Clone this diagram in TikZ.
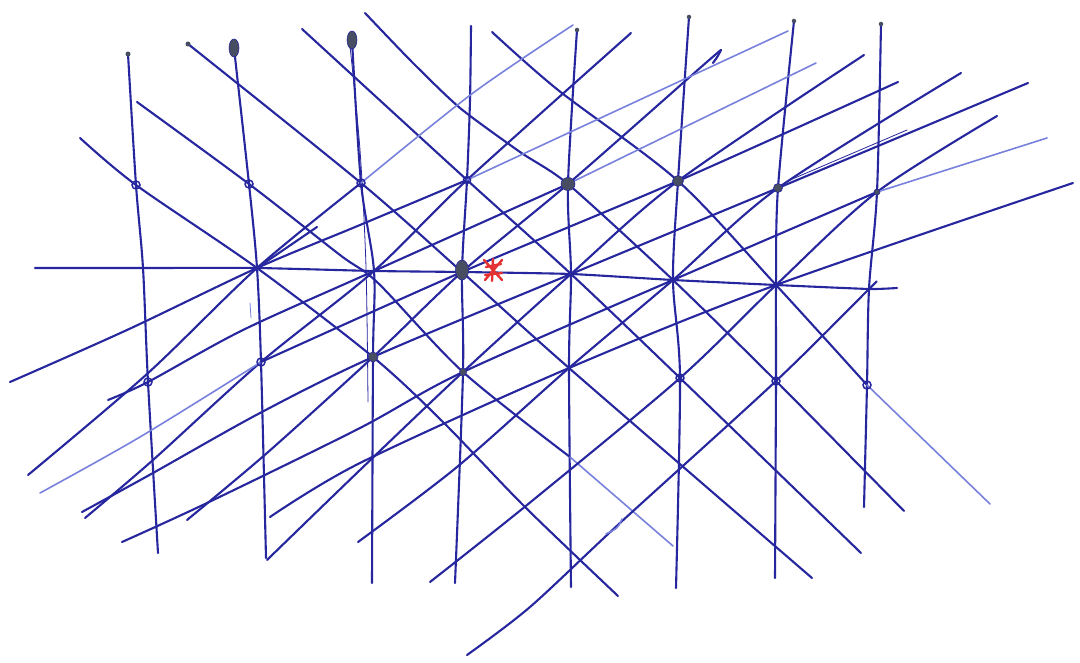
\documentclass[tikz,border=0pt]{standalone}
\usepackage{tikz}
\usetikzlibrary{shapes.geometric}
\definecolor{ink}{RGB}{38,38,158}
\definecolor{inkfaint}{RGB}{120,130,220}
\definecolor{blobc}{RGB}{72,78,98}
\definecolor{redink}{RGB}{228,50,50}
\tikzset{
  pen/.style={draw=ink,line width=2.1pt,line cap=round,line join=round},
  fpen/.style={draw=inkfaint,line width=1.6pt,line cap=round,line join=round},
  hair/.style={draw=ink,line width=0.8pt,line cap=round},
  ring/.style={circle,draw=ink,line width=1.5pt,inner sep=0pt,minimum size=8pt},
  inkblob/.style={ellipse,fill=blobc,draw=ink,line width=0.6pt,inner sep=0pt},
  tipdot/.style={circle,fill=blobc,inner sep=0pt,minimum size=5pt},
}
\begin{document}
\begin{tikzpicture}[x=1pt,y=-1pt]
\useasboundingbox (0,0) rectangle (1080,663);
\fill[white] (0,0) rectangle (1080,663);
% lattice points
\coordinate (A1) at (136,185); \coordinate (A2) at (249,184); \coordinate (A3) at (361,183);
\coordinate (A4) at (467,180); \coordinate (A5) at (568,184); \coordinate (A6) at (678,181);
\coordinate (A7) at (778,188); \coordinate (A8) at (877,192);
\coordinate (B1) at (143,268); \coordinate (B2) at (257,268); \coordinate (B3) at (374,271);
\coordinate (B4) at (462,272); \coordinate (B5) at (571,274); \coordinate (B6) at (673,280);
\coordinate (B7) at (776,285); \coordinate (B8) at (869,289);
\coordinate (C1) at (148,382); \coordinate (C2) at (261,362); \coordinate (C3) at (373,357);
\coordinate (C4) at (463,372); \coordinate (C5) at (569,368); \coordinate (C6) at (680,378);
\coordinate (C7) at (776,381); \coordinate (C8) at (867,385);
% vertical line ends
\coordinate (v1t) at (128,54);  \coordinate (v1b) at (158,553);
\coordinate (v2t) at (234,48);  \coordinate (v2b) at (266,558);
\coordinate (v3t) at (352,40);  \coordinate (v3b) at (372,583);
\coordinate (v4t) at (471,26);  \coordinate (v4m) at (470,100); \coordinate (v4b) at (455,583);
\coordinate (v5t) at (577,30);  \coordinate (v5b) at (571,587);
\coordinate (v6t) at (689,17);  \coordinate (v6b) at (676,588);
\coordinate (v7t) at (794,21);  \coordinate (v7b) at (775,578);
\coordinate (v8t) at (881,24);  \coordinate (v8b) at (864,507);
\coordinate (t3a) at (350,46); \coordinate (t3b) at (360,150); \coordinate (t3c) at (366,267); \coordinate (t3d) at (368,402);
% horizontal
\coordinate (hl) at (35,268); \coordinate (hr) at (897,288);
% verticals
\draw[pen] plot[smooth,tension=0.5] coordinates {(v1t) (A1) (B1) (C1) (v1b)};
\draw[pen] plot[smooth,tension=0.5] coordinates {(v2t) (A2) (B2) (C2) (v2b)};
\draw[pen] plot[smooth,tension=0.5] coordinates {(v3t) (A3) (B3) (C3) (v3b)};
\draw[hair] plot[smooth,tension=0.5] coordinates {(t3a) (t3b) (t3c) (t3d)};
\draw[pen] plot[smooth,tension=0.5] coordinates {(v4t) (v4m) (A4) (B4) (C4) (v4b)};
\draw[pen] plot[smooth,tension=0.5] coordinates {(v5t) (A5) (B5) (C5) (v5b)};
\draw[pen] plot[smooth,tension=0.5] coordinates {(v6t) (A6) (B6) (C6) (v6b)};
\draw[pen] plot[smooth,tension=0.5] coordinates {(v7t) (A7) (B7) (C7) (v7b)};
\draw[pen] plot[smooth,tension=0.5] coordinates {(v8t) (A8) (B8) (C8) (v8b)};
% horizontal
\draw[pen] plot[smooth,tension=0.3] coordinates {(hl) (B1) (B2) (B3) (B4) (B5) (B6) (B7) (B8) (hr)};
% descending lines
\coordinate (da0) at (80,138); \coordinate (da1) at (443,422); \coordinate (da2) at (525,507); \coordinate (da3) at (618,596);
\draw[pen] plot[smooth,tension=0.5] coordinates {(da0) (A1) (B2) (C3) (da1) (da2) (da3)};
\coordinate (db0) at (137,102); \coordinate (db1) at (340,255); \coordinate (db2) at (378,283);
\coordinate (db3) at (570,457); \coordinate (db4) at (673,546);
\draw[pen] plot[smooth,tension=0.5] coordinates {(db0) (A2) (db1) (db2) (C4) (db3)};
\draw[fpen] plot[smooth,tension=0.5] coordinates {(db3) (db4)};
\coordinate (dc0) at (188,44); \coordinate (dc1) at (812,578);
\draw[pen] plot[smooth,tension=0.5] coordinates {(dc0) (A3) (B4) (C5) (dc1)};
\coordinate (dd0) at (302,29); \coordinate (dd1) at (861,553);
\draw[pen] plot[smooth,tension=0.5] coordinates {(dd0) (A4) (B5) (C6) (dd1)};
\coordinate (de0) at (365,13); \coordinate (de1) at (412,62); \coordinate (de2) at (460,108);
\coordinate (de3) at (520,152); \coordinate (de4) at (904,511);
\draw[pen] plot[smooth,tension=0.4] coordinates {(de0) (de1) (de2) (de3) (A5) (B6) (C7) (de4)};
\coordinate (df0) at (492,32); \coordinate (df1) at (558,90); \coordinate (df2) at (990,504);
\draw[pen] plot[smooth,tension=0.5] coordinates {(df0) (df1) (A6) (B7) (C8)};
\draw[fpen] (C8) -- (df2);
% steep ascending lines
\coordinate (s1a) at (28,475); \coordinate (s1b) at (147,374); \coordinate (s1c) at (473,93); \coordinate (s1d) at (573,25);
\draw[pen] plot[smooth,tension=0.5] coordinates {(s1a) (s1b) (B2) (A3)};
\draw[fpen] plot[smooth,tension=0.5] coordinates {(A3) (s1c) (s1d)};
\coordinate (s2a) at (85,518); \coordinate (s2b) at (153,460); \coordinate (s2c) at (631,33);
\draw[pen] plot[smooth,tension=0.5] coordinates {(s2a) (s2b) (C2) (B3) (A4) (s2c)};
\coordinate (s3a) at (187,520); \coordinate (s3b) at (267,453); \coordinate (s3c) at (700,68); \coordinate (s3d) at (721,50); \coordinate (s3e) at (713,63);
\draw[pen] plot[smooth,tension=0.5] coordinates {(s3a) (s3b) (C3) (B4) (A5) (s3c) (s3d)};
\draw[pen] (s3d) .. controls (718,56) .. (s3e);
\coordinate (s4a) at (267,560); \coordinate (s4b) at (360,470); \coordinate (s4c) at (864,55);
\draw[pen] plot[smooth,tension=0.5] coordinates {(s4a) (s4b) (C4) (B5) (A6) (s4c)};
\coordinate (s5a) at (358,542); \coordinate (s5b) at (457,467); \coordinate (s5c) at (961,73);
\draw[pen] plot[smooth,tension=0.5] coordinates {(s5a) (s5b) (C5) (B6) (A7) (s5c)};
\coordinate (s6a) at (430,582); \coordinate (s6b) at (527,505); \coordinate (s6c) at (997,116);
\draw[pen] plot[smooth,tension=0.5] coordinates {(s6a) (s6b) (C6) (B7) (A8) (s6c)};
\coordinate (s7a) at (467,655); \coordinate (s7b) at (530,607); \coordinate (s7c) at (620,523); \coordinate (s7d) at (874,284);
\draw[pen] plot[smooth,tension=0.5] coordinates {(s7a) (s7b) (s7c) (C7) (B8) (s7d)};
\coordinate (hk1) at (622,519); \coordinate (hk2) at (606,534);
\draw[fpen] (hk1) .. controls (618,528) .. (hk2);
% shallow ascending lines
\coordinate (h0a) at (10,382); \coordinate (h0b) at (127,330); \coordinate (h0c) at (360,225); \coordinate (h0d) at (788,31);
\draw[pen] plot[smooth,tension=0.5] coordinates {(h0a) (h0b) (B2) (h0c) (A4)};
\draw[fpen] (A4) -- (h0d);
\coordinate (h1a) at (108,400); \coordinate (h1b) at (243,330); \coordinate (h1c) at (816,63);
\draw[pen] plot[smooth,tension=0.5] coordinates {(h1a) (C1) (h1b) (B3) (A5)};
\draw[fpen] (A5) -- (h1c);
\coordinate (h2a) at (40,493); \coordinate (h2b) at (140,437); \coordinate (h2c) at (898,82);
\draw[fpen] plot[smooth,tension=0.5] coordinates {(h2a) (h2b) (C2)};
\draw[pen] plot[smooth,tension=0.5] coordinates {(C2) (B4) (A6) (h2c)};
\coordinate (h3a) at (82,512); \coordinate (h3b) at (153,473); \coordinate (h3c) at (260,413); \coordinate (h3d) at (1028,83);
\draw[pen] plot[smooth,tension=0.5] coordinates {(h3a) (h3b) (h3c) (C3) (B5) (A7) (h3d)};
\coordinate (h4a) at (122,542); \coordinate (h4b) at (207,503); \coordinate (h4c) at (360,428); \coordinate (h4d) at (1047,138);
\draw[pen] plot[smooth,tension=0.5] coordinates {(h4a) (h4b) (h4c) (C4) (B6) (A8)};
\draw[fpen] (A8) -- (h4d);
\coordinate (h5a) at (270,517); \coordinate (h5b) at (360,463); \coordinate (h5c) at (1073,183);
\draw[pen] plot[smooth,tension=0.5] coordinates {(h5a) (h5b) (C5) (B7) (h5c)};
% extra strokes
\coordinate (x1) at (317,227);
\draw[pen] (B2) -- (x1);
\coordinate (x2a) at (790,180); \coordinate (x2b) at (907,130);
\draw[hair] (x2a) -- (x2b);
\coordinate (x3a) at (250,303); \coordinate (x3b) at (251,318);
\draw[fpen,line width=0.8pt] (x3a) -- (x3b);
% ink dots
\node[inkblob,minimum width=10pt,minimum height=18pt] (bv2) at (234,48) {};
\node[inkblob,minimum width=10pt,minimum height=18pt] (bv3) at (352,40) {};
\node[tipdot] (bv1) at (v1t) {};
\node[tipdot,minimum size=4.5pt] (bv5) at (v5t) {};
\node[tipdot,minimum size=4.5pt] (bv6) at (v6t) {};
\node[tipdot,minimum size=4.5pt] (bv7) at (v7t) {};
\node[tipdot,minimum size=4.5pt] (bv8) at (v8t) {};
\node[tipdot,minimum size=5pt] (bdc) at (dc0) {};
\node[inkblob,minimum width=13pt,minimum height=20pt] (bB4) at (462,270) {};
\node[inkblob,minimum width=14pt,minimum height=13pt] (bA5) at (A5) {};
\node[inkblob,minimum width=11pt,minimum height=11pt] (bA6) at (A6) {};
\node[inkblob,minimum width=10pt,minimum height=10pt] (bC3) at (C3) {};
\node[inkblob,minimum width=9pt,minimum height=9pt] (bA7) at (A7) {};
\node[inkblob,minimum width=6pt,minimum height=6pt] (bA8) at (A8) {};
\node[inkblob,minimum width=7pt,minimum height=8pt] (bC4) at (C4) {};
% open rings
\node[ring] (rA1) at (A1) {};
\node[ring] (rA2) at (A2) {};
\node[ring] (rA3) at (A3) {};
\node[ring,minimum size=7pt] (rA4) at (A4) {};
\node[ring] (rC1) at (C1) {};
\node[ring] (rC2) at (C2) {};
\node[ring] (rC6) at (C6) {};
\node[ring] (rC7) at (C7) {};
\node[ring] (rC8) at (C8) {};
% red mark
\coordinate (rx) at (493,270);
\draw[redink,line width=2.4pt,line cap=round] (484,260) -- (502,280) (485,280) -- (502,260) (486,267) -- (501,264) (485,275) -- (502,273) (493,259) -- (492,281);
\end{tikzpicture}
\end{document}
